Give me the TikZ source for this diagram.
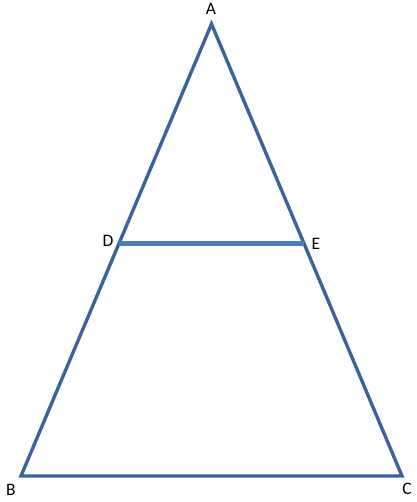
\documentclass[tikz,border=0pt]{standalone}
\usepackage{fontspec}
\setmainfont{Carlito}
\usetikzlibrary{calc}
\definecolor{edge}{RGB}{59,100,157}
\definecolor{mid}{RGB}{74,126,187}
\begin{document}
\begin{tikzpicture}[x=1pt,y=-1pt,
  side/.style={draw=edge,line width=3.4pt,line join=miter},
  midline/.style={draw=mid,line width=5pt},
  lab/.style={font=\fontsize{17.5}{17.5}\selectfont,inner sep=0pt}]
\useasboundingbox (0,0) rectangle (416,502);
\coordinate (A) at (211.5,24);
\coordinate (B) at (21,476);
\coordinate (C) at (402,476);
\coordinate (D) at ($(A)!0.485!(B)$);
\coordinate (E) at ($(A)!0.485!(C)$);
\draw[side] (A) -- (B) -- (C) -- cycle;
\draw[midline] (D) -- (E);
\node[lab] (lA) at (211,9) {A};
\node[lab] (lB) at (11,490) {B};
\node[lab] (lC) at (407,489) {C};
\node[lab] (lD) at (108,241) {D};
\node[lab] (lE) at (316,244) {E};
\end{tikzpicture}
\end{document}
